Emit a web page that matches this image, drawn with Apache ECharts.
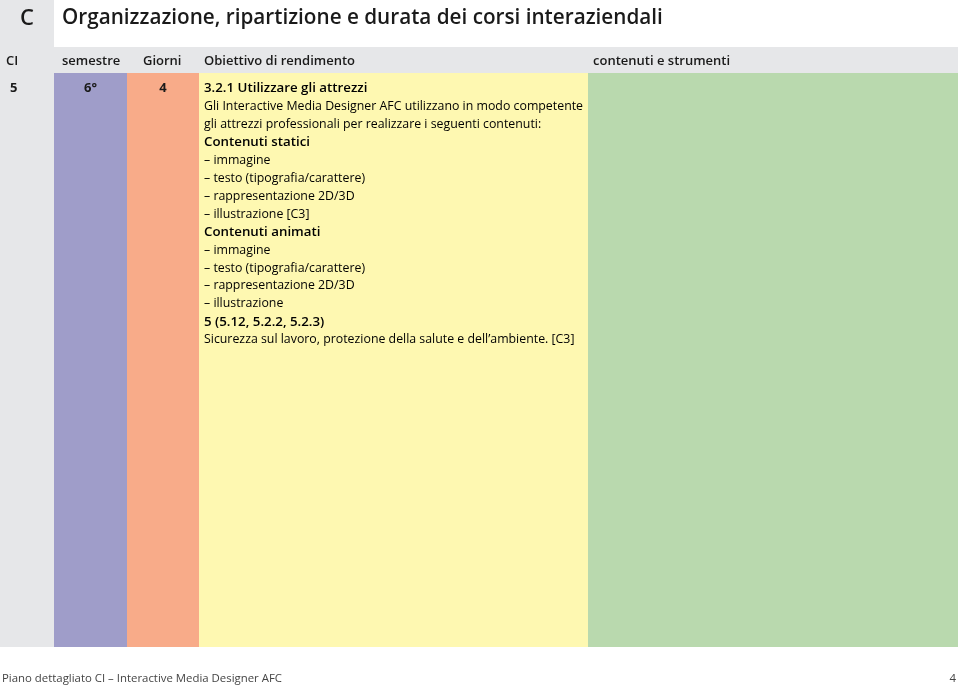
<!DOCTYPE html>
<html>
<head>
<meta charset="utf-8">
<script src="https://cdn.jsdelivr.net/npm/echarts@6/dist/echarts.min.js"></script>
<style>
  html, body { margin: 0; padding: 0; background: #fff; }
  #chart { width: 960px; height: 687px; }
</style>
</head>
<body>
<div id="chart"></div>
<script>
// table columns (header text + width in page units)
var columns = ['CI', 'semestre', 'Giorni', 'Obiettivo di rendimento', 'contenuti e strumenti']
var colWidths = [54, 73, 72, 389, 370]
var rowValues = ['5', '6°', '4', '', '']

var titleLetter = 'C'
var titleText = 'Organizzazione, ripartizione e durata dei corsi interaziendali'
var footerText = 'Piano dettagliato CI – Interactive Media Designer AFC'
var pageNumber = '4'

// content of the "Obiettivo di rendimento" cell: [style, text]
var objectiveLines = [
  ['b', '3.2.1 Utilizzare gli attrezzi'],
  ['n', 'Gli Interactive Media Designer AFC utilizzano in modo competente'],
  ['n', 'gli attrezzi professionali per realizzare i seguenti contenuti:'],
  ['b', 'Contenuti statici'],
  ['n', '– immagine'],
  ['n', '– testo (tipografia/carattere)'],
  ['n', '– rappresentazione 2D/3D'],
  ['n', '– illustrazione [C3]'],
  ['b', 'Contenuti animati'],
  ['n', '– immagine'],
  ['n', '– testo (tipografia/carattere)'],
  ['n', '– rappresentazione 2D/3D'],
  ['n', '– illustrazione'],
  ['b', '5 (5.12, 5.2.2, 5.2.3)'],
  ['n', 'Sicurezza sul lavoro, protezione della salute e dell’ambiente. [C3]']
]

var colColors = ['#e6e7e9', '#9f9dc9', '#f8ab89', '#fef8b1', '#b9d9ae']
var FONT = '"Open Sans", "DejaVu Sans", sans-serif'
var INK = '#1a1a1a'

var chart = echarts.init(document.getElementById('chart'))

var series = columns.map(function (name, i) {
  var label = {
    show: rowValues[i] !== '',
    formatter: rowValues[i],
    color: INK,
    fontFamily: FONT,
    fontWeight: 'bold',
    fontSize: 13
  }
  if (i === 0) {
    label.position = [10, 9]
  } else {
    label.position = 'insideTop'
    label.distance = 9
  }
  return {
    name: name,
    type: 'bar',
    stack: 'row',
    barWidth: '100%',
    silent: true,
    itemStyle: { color: colColors[i] },
    label: label,
    data: [colWidths[i]]
  }
})

// header text positions from the column edges
var edges = [0]
colWidths.forEach(function (w, i) { edges.push(edges[i] + w) })
var headerPad = [6, 8, 16, 5, 5]
var headerTexts = columns.map(function (name, i) {
  return {
    type: 'text',
    z: 10,
    left: edges[i] + headerPad[i],
    top: 55,
    style: { text: name, fill: INK, font: '600 13px ' + FONT }
  }
})

var richText = objectiveLines.map(function (l) {
  return '{' + l[0] + '|' + l[1] + '}'
}).join('\n')

var option = {
  backgroundColor: '#fff',
  animation: false,
  grid: { left: 0, right: 2, top: 73, bottom: 40 },
  xAxis: { type: 'value', min: 0, max: 958, show: false },
  yAxis: { type: 'category', data: ['riga'], show: false },
  series: series,
  graphic: [
    { type: 'rect', z: 1, shape: { x: 0, y: 0, width: 54, height: 47 }, style: { fill: colColors[0] } },
    { type: 'rect', z: 1, shape: { x: 0, y: 47, width: 958, height: 26 }, style: { fill: colColors[0] } },
    {
      type: 'text', z: 10, left: 20, top: 8,
      style: { text: titleLetter, fill: INK, font: '600 22px ' + FONT }
    },
    {
      type: 'text', z: 10, left: 62, top: 8,
      style: { text: titleText, fill: INK, font: '600 20.7px ' + FONT }
    },
    {
      type: 'text', z: 10, left: 204, top: 82,
      style: {
        text: richText,
        rich: {
          b: { fontFamily: FONT, fontSize: 13.3, fontWeight: 600, color: INK, lineHeight: 17.95 },
          n: { fontFamily: FONT, fontSize: 12.35, color: '#2a2a2a', lineHeight: 17.95 }
        }
      }
    },
    {
      type: 'text', z: 10, left: 2, top: 673,
      style: { text: footerText, fill: '#444', font: '11.4px ' + FONT }
    },
    {
      type: 'text', z: 10, right: 4, top: 673,
      style: { text: pageNumber, fill: '#444', font: '11.4px ' + FONT }
    }
  ].concat(headerTexts)
}

chart.setOption(option)
</script>
</body>
</html>
